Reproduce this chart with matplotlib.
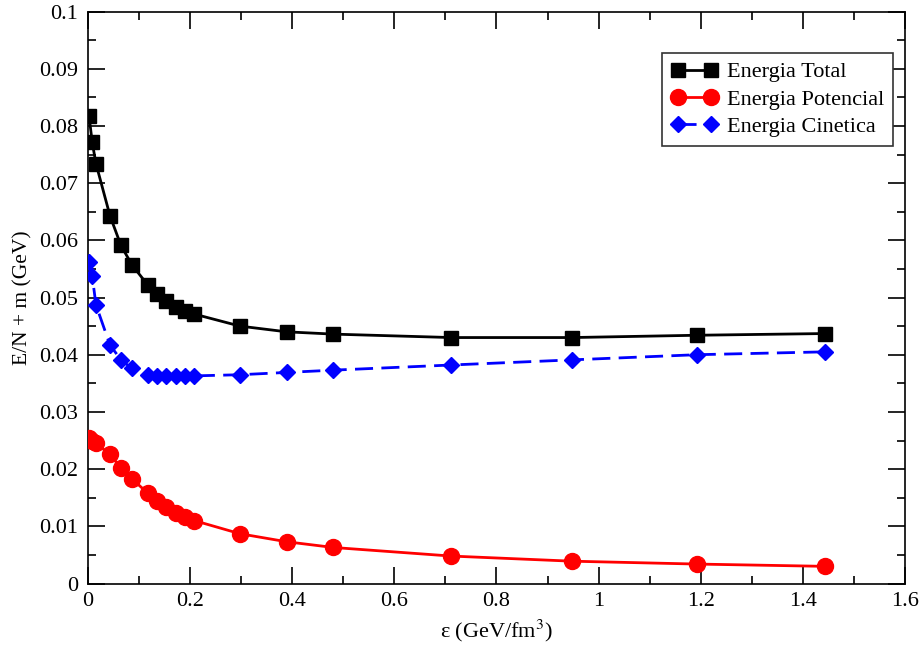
import matplotlib
matplotlib.use("Agg")
import matplotlib.pyplot as plt
from matplotlib.ticker import MultipleLocator, FuncFormatter

# Energy density (GeV/fm^3)
eps = [0.002, 0.0084, 0.0157, 0.0431, 0.0646, 0.0862, 0.117, 0.1357, 0.1533,
       0.1718, 0.190, 0.2082, 0.2977, 0.389, 0.4804, 0.711, 0.9485, 1.192, 1.4434]

e_total = [0.0818, 0.0771, 0.0734, 0.0643, 0.0591, 0.0557, 0.0522, 0.0507, 0.0494,
           0.0484, 0.0477, 0.0471, 0.0450, 0.0440, 0.0436, 0.0430, 0.0430, 0.0434, 0.0437]

e_pot = [0.0255, 0.0249, 0.0245, 0.0226, 0.0202, 0.0183, 0.0158, 0.0145, 0.0133,
         0.0123, 0.0117, 0.0110, 0.0087, 0.0073, 0.0063, 0.0048, 0.0039, 0.0034, 0.0030]

e_kin = [0.0562, 0.0537, 0.0487, 0.0417, 0.0391, 0.0376, 0.0364, 0.0363, 0.0362,
         0.0362, 0.0362, 0.0363, 0.0365, 0.0369, 0.0373, 0.0382, 0.0391, 0.0400, 0.0405]

labels = ["Energia Total", "Energia Potencial", "Energia Cinetica"]

plt.rcParams['font.family'] = ['Liberation Serif', 'DejaVu Serif']
plt.rcParams['mathtext.fontset'] = 'stix'

FS = 16

fig = plt.figure(figsize=(9.22, 6.5), dpi=100)
ax = fig.add_axes([0.0954, 0.1023, 0.8862, 0.88])

ax.plot(eps, e_total, color='black', lw=2, marker='s', ms=9.5, label=labels[0], zorder=3)
ax.plot(eps, e_pot, color='red', lw=2, marker='o', ms=11.5, label=labels[1], zorder=3)
ax.plot(eps, e_kin, color='blue', lw=2, ls=(0, (6.5, 3)), marker='D', ms=8.5, label=labels[2], zorder=3)

ax.set_xlim(0, 1.6)
ax.set_ylim(0, 0.1)
ax.xaxis.set_major_locator(MultipleLocator(0.2))
ax.xaxis.set_minor_locator(MultipleLocator(0.1))
ax.yaxis.set_major_locator(MultipleLocator(0.01))
ax.yaxis.set_minor_locator(MultipleLocator(0.005))
fmt = FuncFormatter(lambda v, p: '%g' % round(v, 6))
ax.xaxis.set_major_formatter(fmt)
ax.yaxis.set_major_formatter(fmt)
ax.tick_params(which='both', direction='in', top=True, right=True, labelsize=FS, width=1.2)
ax.tick_params(which='major', length=12)
ax.tick_params(which='minor', length=6)
ax.tick_params(axis='y', which='major', pad=7)
ax.tick_params(axis='x', which='major', pad=6)
for s in ax.spines.values():
    s.set_linewidth(1.2)

ax.set_xlabel(r"ε (GeV/fm$^{3}$)", fontsize=FS, labelpad=5)
ax.set_ylabel("E/N + m (GeV)", fontsize=15.5, labelpad=5)

leg = ax.legend(loc='upper right', bbox_to_anchor=(0.9853, 0.9275), fontsize=FS,
                numpoints=2, handlelength=2.1, fancybox=False, framealpha=1,
                edgecolor='#333333', borderaxespad=0.0, labelspacing=0.3,
                handletextpad=0.4, borderpad=0.4)
leg.get_frame().set_linewidth(1.2)

fig.savefig("out.png", dpi=100)
